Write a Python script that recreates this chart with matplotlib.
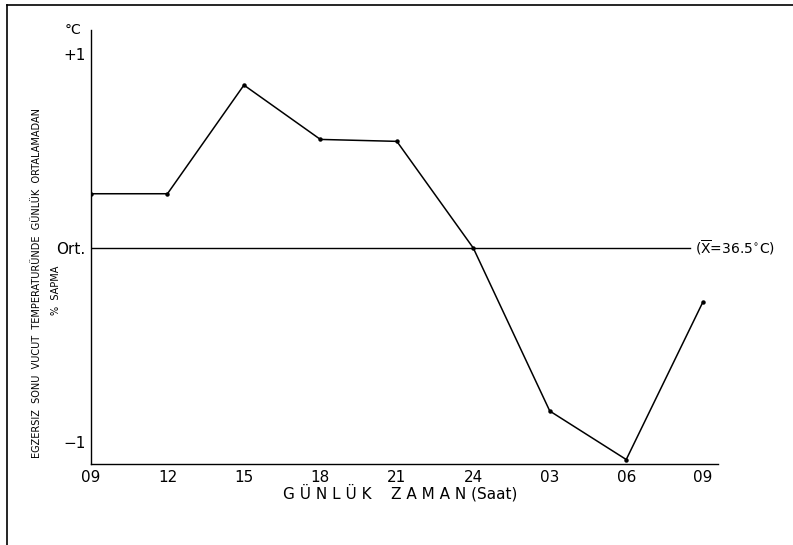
import matplotlib
matplotlib.use("Agg")
import matplotlib.pyplot as plt
from matplotlib.lines import Line2D

hours = ["09", "12", "15", "18", "21", "24", "03", "06", "09"]
deviation = [0.28, 0.28, 0.84, 0.56, 0.55, 0.0, -0.84, -1.09, -0.28]
y_ticks = [1, 0, -1]
y_labels = ["+1", "Ort.", "\u22121"]

fig = plt.figure(figsize=(7.93, 5.45), dpi=100)
fig.patch.set_facecolor("white")

# axes box placed in pixel terms of the 793x545 page
ax = fig.add_axes([91 / 793, (545 - 464) / 545, (718 - 91) / 793, (464 - 30) / 545])
x = list(range(len(hours)))

ax.plot(x, deviation, color="black", linewidth=1.1, marker="o", markersize=2.2, zorder=3)
ax.plot([0, 7.83], [0, 0], color="black", linewidth=1.0)

ax.set_xlim(0, 8.2)
ax.set_ylim(-1.113, 1.124)

for s in ["top", "right"]:
    ax.spines[s].set_visible(False)
ax.spines["left"].set_linewidth(1.0)
ax.spines["bottom"].set_linewidth(1.0)

ax.set_xticks(x)
ax.set_xticklabels(hours, fontsize=11)
ax.set_yticks(y_ticks)
ax.set_yticklabels(y_labels, fontsize=11)
ax.tick_params(length=0, pad=4)

ax.text(-0.12, 1.09, "\u00b0C", ha="right", va="bottom", fontsize=10, transform=ax.transData, clip_on=False)
ax.text(7.9, 0, r"($\overline{\mathrm{X}}$=36.5$^{\circ}$C)", ha="left", va="center", fontsize=10, clip_on=False)

fig.text(400 / 793, 1 - 493 / 545, "G Ü N L Ü K    Z A M A N (Saat)", ha="center", va="center", fontsize=11)

fig.text(37 / 793, 1 - 283 / 545, "EGZERSIZ  SONU  VUCUT  TEMPERATURÜNDE  GÜNLÜK  ORTALAMADAN",
         rotation=90, ha="center", va="center", fontsize=7)
fig.text(56 / 793, 1 - 290 / 545, "%  SAPMA", rotation=90, ha="center", va="center", fontsize=7)

# page border from the scan
fig.add_artist(Line2D([7 / 793, 7 / 793], [0, 1 - 5 / 545], color="black", linewidth=1.2, transform=fig.transFigure))
fig.add_artist(Line2D([7 / 793, 1], [1 - 5 / 545, 1 - 5 / 545], color="black", linewidth=1.2, transform=fig.transFigure))

plt.savefig("out.png", dpi=100, facecolor="white")
